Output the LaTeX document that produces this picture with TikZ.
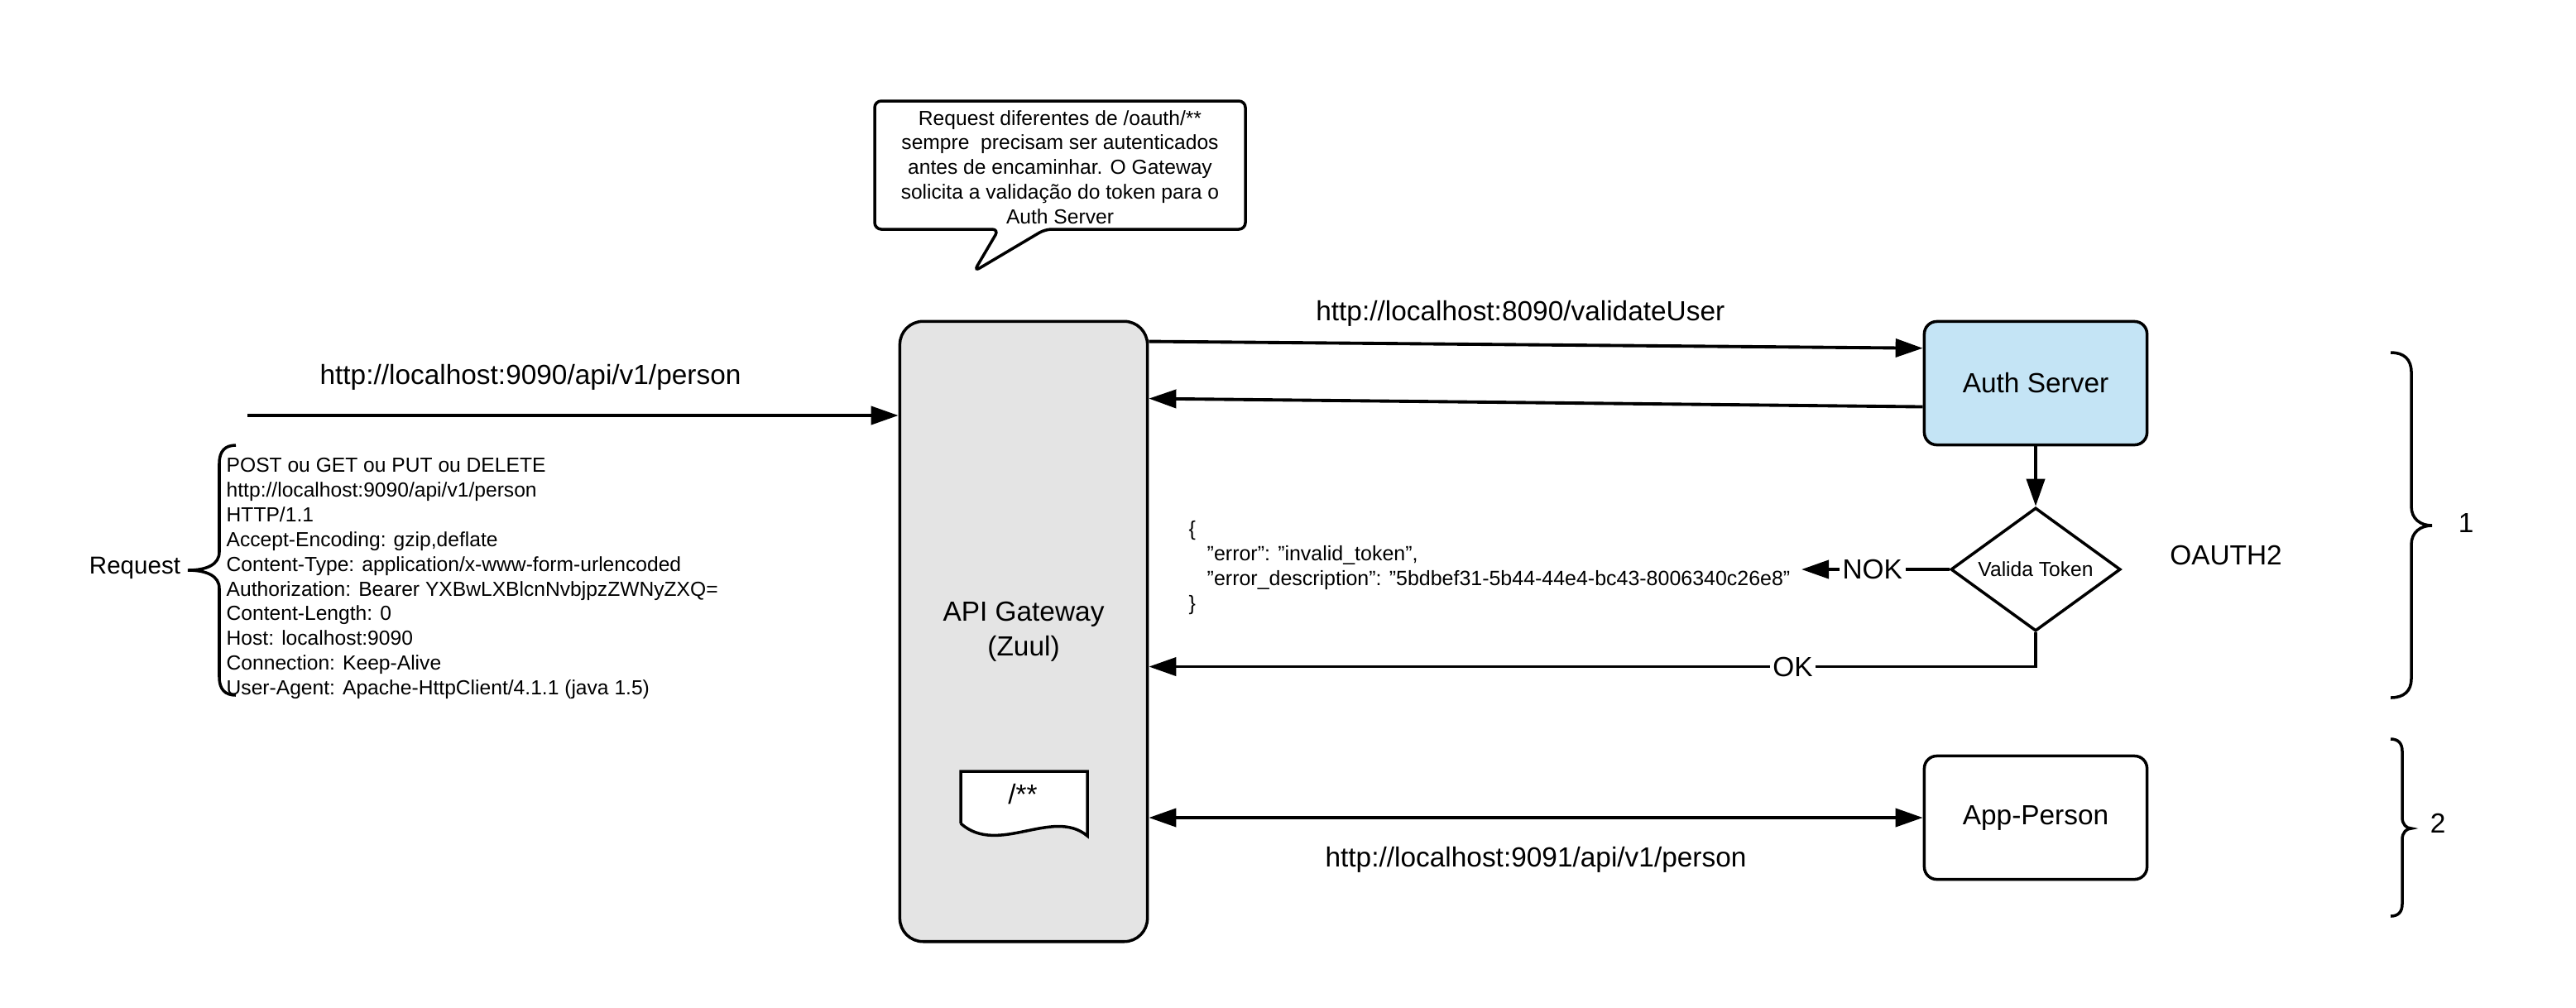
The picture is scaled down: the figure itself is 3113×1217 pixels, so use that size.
\documentclass[tikz,border=0pt]{standalone}
\usepackage{fontspec}
\setmainfont{Liberation Sans}
\usetikzlibrary{arrows.meta,shapes.geometric}
\definecolor{gwgray}{RGB}{228,228,228}
\definecolor{authblue}{RGB}{196,228,245}
\tikzset{
  big/.style={font=\fontsize{9.5}{12}\selectfont},
  small/.style={font=\fontsize{7}{8.5}\selectfont},
  srvbox/.style={draw, line width=1pt, rounded corners=0.15cm, minimum width=2.69cm, minimum height=1.49cm, big},
  arr/.style={line width=1.1pt, -{Triangle[length=0.33cm,width=0.22cm]}},
  arrs/.style={line width=1.1pt, {Triangle[length=0.33cm,width=0.22cm]}-{Triangle[length=0.33cm,width=0.22cm]}},
  brc/.style={line width=1pt},
  lbl/.style={fill=white, inner sep=1pt, big},
}
\begin{document}
\begin{tikzpicture}[x=0.01cm,y=-0.01cm]
\useasboundingbox (0,0) rectangle (3113,1217);
\node[draw, line width=1pt, rounded corners=0.28cm, fill=gwgray, minimum width=2.99cm, minimum height=7.49cm, align=center, big] (gw) at (1237,763) {API Gateway\\(Zuul)};
\node[srvbox, fill=authblue] (auth) at (2460,463) {Auth Server};
\node[srvbox] (app) at (2460,988) {App-Person};
\node[draw, diamond, line width=1pt, aspect=1.37, minimum width=2.05cm, minimum height=1.49cm, inner sep=0pt, small] (valida) at (2460,688) {Valida Token};
\draw[line width=1pt, fill=white] (1161,995) -- (1161,932) -- (1314,932) -- (1314,1010) .. controls (1272,975) and (1206,1035) .. (1161,995);
\node[big] (rota) at (1236,960) {/**};
\draw[line width=1pt, rounded corners=0.08cm] (1057,122) -- (1505,122) -- (1505,277) -- (1263,277) -- (1177,328) -- (1207,277) -- (1057,277) -- cycle;
\node[align=center, small] (nota) at (1281,202) {Request diferentes de /oauth/**\\sempre~ precisam ser autenticados\\antes de encaminhar. O Gateway\\solicita a validação do token para o\\Auth Server};
\coordinate (reqin) at (299,502);
\draw[arr] (reqin) -- (reqin -| gw.west);
\node[big] (requrl) at (641,456) {http://localhost:9090/api/v1/person};
\node[inner sep=0pt, font=\fontsize{8.4}{10}\selectfont] (reqlbl) at (163,686) {Request};
\draw[brc] (285,538) .. controls (272,538) and (265,545) .. (265,560) -- (265,667) .. controls (265,682) and (250,689) .. (227,689) .. controls (250,689) and (265,696) .. (265,711) -- (265,818) .. controls (265,833) and (272,840) .. (285,840);
\node[anchor=west, align=left, inner sep=0pt, small] (hdrs) at (273,699) {POST ou GET ou PUT ou DELETE\\http://localhost:9090/api/v1/person\\HTTP/1.1\\Accept-Encoding: gzip,deflate\\Content-Type: application/x-www-form-urlencoded\\Authorization: Bearer YXBwLXBlcnNvbjpzZWNyZXQ=\\Content-Length: 0\\Host: localhost:9090\\Connection: Keep-Alive\\User-Agent: Apache-HttpClient/4.1.1 (java 1.5)};
\draw[arr] ([yshift=-0.26cm]gw.north east) -- node[pos=0.48, above=0.08cm, big] (valurl) {http://localhost:8090/validateUser} ([yshift=-0.34cm]auth.north west);
\draw[arr] ([yshift=-0.285cm]auth.west) -- ([yshift=-0.95cm]gw.north east);
\draw[arr] (auth) -- (valida);
\coordinate (nokend) at (2177,688);
\draw[arr] (valida.west) -- node[pos=0.52, lbl] (nok) {NOK} (nokend);
\node[anchor=west, align=left, inner sep=0pt, font=\fontsize{7.1}{8.5}\selectfont] (erro) at (1436,686) {\{\\\hspace*{0.22cm}"error": "invalid\_token",\\\hspace*{0.22cm}"error\_description": "5bdbef31-5b44-44e4-bc43-8006340c26e8"\\\}};
\draw[arr] (valida.south) |- node[pos=0.637, lbl] (ok) {OK} ([yshift=-0.425cm]gw.east);
\draw[arrs] (gw.east |- app.west) -- node[midway, below=0.22cm, big] (appurl) {http://localhost:9091/api/v1/person} (app.west);
\node[big] (oauth) at (2690,671) {OAUTH2};
\draw[brc] (2889,426) .. controls (2905,426) and (2914,434) .. (2914,450) -- (2914,612) .. controls (2914,627) and (2925,635) .. (2939,635) .. controls (2925,635) and (2914,643) .. (2914,658) -- (2914,820) .. controls (2914,835) and (2905,843) .. (2889,843);
\node[big] (um) at (2980,632) {1};
\draw[brc] (2889,893) .. controls (2898,893) and (2903,898) .. (2903,908) -- (2903,988) .. controls (2903,996) and (2908,1001) .. (2914,1001) .. controls (2908,1001) and (2903,1006) .. (2903,1014) -- (2903,1092) .. controls (2903,1102) and (2898,1107) .. (2889,1107);
\node[big] (dois) at (2946,995) {2};
\end{tikzpicture}
\end{document}
